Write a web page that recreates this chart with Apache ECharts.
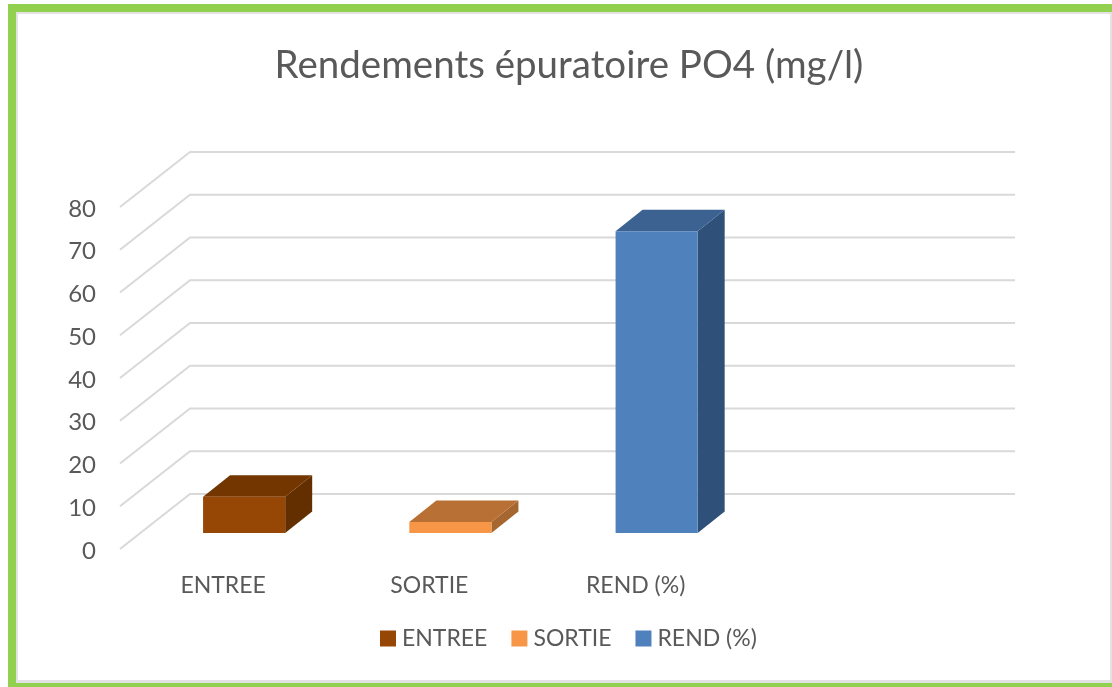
<!DOCTYPE html>
<html>
<head>
<meta charset="utf-8">
<style>html,body{margin:0;padding:0;background:#fff}#c{width:1112px;height:687px}</style>
<script src="https://cdn.jsdelivr.net/npm/echarts@6/dist/echarts.min.js"></script>
</head>
<body>
<div id="c"></div>
<script>
const chartTitle = 'Rendements épuratoire PO4 (mg/l)';
const categories = ['ENTREE', 'SORTIE', 'REND (%)', ''];
const seriesNames = ['ENTREE', 'SORTIE', 'REND (%)'];
const entreeValues = [[0, 8.5]];
const sortieValues = [[1, 2.6]];
const rendValues = [[2, 70.6]];
const yTicks = [0, 10, 20, 30, 40, 50, 60, 70, 80];

const FONT = 'Lato';
const TEXT = '#595959';
// The grid sits 2px lower than the drawn planes so the tick labels line up with the diagonals.
const LIFT = 2;
const WALL = { dx: 70, dy: -55 };
const BAR = { shiftX: 21, shiftY: -16, depthX: 27, depthY: -21.5, widthRatio: 0.398 };

function wallItem(params, api) {
  const v = api.value(1);
  const band = api.size([1, 0])[0];
  const y = api.coord([0, v])[1] - LIFT;
  const left = api.coord([0, v])[0] - band / 2;
  const right = api.coord([3, v])[0] + band / 2;
  return {
    type: 'polyline',
    silent: true,
    shape: { points: [[left, y], [left + WALL.dx, y + WALL.dy], [right + WALL.dx, y + WALL.dy]] },
    style: { fill: null, stroke: '#d9d9d9', lineWidth: 2 }
  };
}

function barRenderer(front, top, side) {
  return function (params, api) {
    const p1 = api.coord([api.value(0), api.value(1)]);
    const p0 = api.coord([api.value(0), 0]);
    const w = api.size([1, 0])[0] * BAR.widthRatio;
    const x0 = p0[0] + BAR.shiftX - w / 2;
    const x1 = x0 + w;
    const yb = p0[1] + BAR.shiftY - LIFT;
    const yt = p1[1] + BAR.shiftY - LIFT;
    const dx = BAR.depthX, dy = BAR.depthY;
    return {
      type: 'group',
      children: [
        { type: 'polygon', shape: { points: [[x1, yb], [x1 + dx, yb + dy], [x1 + dx, yt + dy], [x1, yt]] }, style: { fill: side } },
        { type: 'polygon', shape: { points: [[x0, yt], [x1, yt], [x1 + dx, yt + dy], [x0 + dx, yt + dy]] }, style: { fill: top } },
        { type: 'rect', shape: { x: x0, y: yt, width: w, height: yb - yt }, style: { fill: front } }
      ]
    };
  };
}

const barSeries = (name, data, front, top, side) => ({
  type: 'custom', name, data, clip: false, z: 3,
  itemStyle: { color: front },
  encode: { x: 0, y: 1 },
  renderItem: barRenderer(front, top, side)
});

const frameColor = '#92d050';
const edgeColor = '#e2e2e2';
const chart = echarts.init(document.getElementById('c'), null, { renderer: 'canvas' });
chart.setOption({
  animation: false,
  backgroundColor: '#fff',
  textStyle: { fontFamily: FONT },
  title: {
    text: chartTitle, left: 564, top: 41, textAlign: 'center',
    textStyle: { fontFamily: FONT, fontSize: 38.5, fontWeight: 'normal', color: TEXT }
  },
  grid: { left: 120, top: 207 + LIFT, width: 825, height: 342, containLabel: false },
  xAxis: {
    type: 'category', data: categories,
    axisLine: { show: false }, axisTick: { show: false }, splitLine: { show: false },
    axisLabel: { fontFamily: FONT, fontSize: 23, color: TEXT, margin: 23, interval: 0 }
  },
  yAxis: {
    type: 'value', min: 0, max: 80, interval: 10,
    axisLine: { show: false }, axisTick: { show: false }, splitLine: { show: false },
    axisLabel: { fontFamily: FONT, fontSize: 24, color: TEXT, margin: 24 }
  },
  legend: {
    data: seriesNames, left: 375, top: 622, itemWidth: 16, itemHeight: 16, itemGap: 24,
    icon: 'rect',
    textStyle: { fontFamily: FONT, fontSize: 23, color: TEXT, padding: [0, 0, 0, 1] }
  },
  graphic: [
    { type: 'rect', silent: true, shape: { x: 16, y: 12, width: 1096, height: 2 }, style: { fill: edgeColor } },
    { type: 'rect', silent: true, shape: { x: 16, y: 12, width: 2, height: 671 }, style: { fill: edgeColor } },
    { type: 'rect', silent: true, shape: { x: 16, y: 680, width: 1096, height: 3 }, style: { fill: edgeColor } },
    { type: 'rect', silent: true, shape: { x: 1110, y: 12, width: 2, height: 671 }, style: { fill: edgeColor } },
    { type: 'rect', silent: true, shape: { x: 8, y: 4, width: 1104, height: 8 }, style: { fill: frameColor } },
    { type: 'rect', silent: true, shape: { x: 8, y: 4, width: 8, height: 683 }, style: { fill: frameColor } },
    { type: 'rect', silent: true, shape: { x: 8, y: 683, width: 1104, height: 4 }, style: { fill: frameColor } }
  ],
  series: [
    {
      type: 'custom', name: 'wall', silent: true, clip: false, z: 1,
      data: yTicks.map(v => [0, v]),
      encode: { x: 0, y: 1 },
      renderItem: wallItem
    },
    barSeries(seriesNames[0], entreeValues, '#964605', '#733600', '#632f00'),
    barSeries(seriesNames[1], sortieValues, '#f79646', '#b97035', '#a5662f'),
    barSeries(seriesNames[2], rendValues, '#4f81bd', '#3b6291', '#2f5078')
  ]
});
</script>
</body>
</html>
